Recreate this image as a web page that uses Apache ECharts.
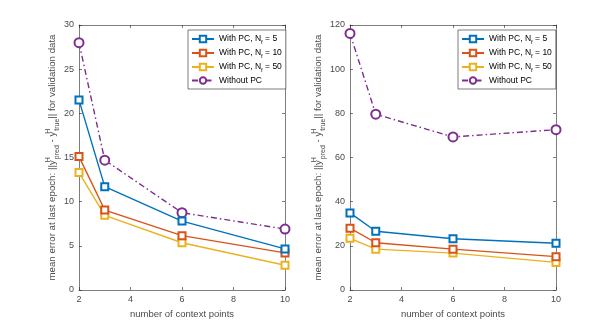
<!DOCTYPE html>
<html><head><meta charset="utf-8">
<script src="https://cdn.jsdelivr.net/npm/echarts@6/dist/echarts.min.js"></script>
<style>html,body{margin:0;padding:0;background:#fff}#c{width:614px;height:327px}</style>
</head><body><div id="c"></div>
<script>
const contextPoints = [2, 3, 6, 10];
const seriesNames = ['With PC, N_f = 5', 'With PC, N_f = 10', 'With PC, N_f = 50', 'Without PC'];
// left panel
const leftNf5 = [21.5, 11.7, 7.8, 4.65];
const leftNf10 = [15.1, 9.05, 6.15, 4.2];
const leftNf50 = [13.3, 8.45, 5.35, 2.8];
const leftNoPC = [28.0, 14.7, 8.75, 6.9];
// right panel
const rightNf5 = [34.9, 26.6, 23.2, 21.2];
const rightNf10 = [28.0, 21.4, 18.5, 15.1];
const rightNf50 = [23.4, 18.5, 16.7, 12.5];
const rightNoPC = [116.2, 79.6, 69.3, 72.6];
const xTicks = [2, 4, 6, 8, 10];
const leftYTicks = [0, 5, 10, 15, 20, 25, 30];
const rightYTicks = [0, 20, 40, 60, 80, 100, 120];

const colors = ['#0072BD', '#D95319', '#EDB120', '#7E2F8E'];
const axisCol = '#262626';
const labCol = '#4a4a4a';
const font = 'Liberation Sans, Arial, sans-serif';

const chart = echarts.init(document.getElementById('c'));
const grids = [
  {left: 79, top: 25, width: 206, height: 265},
  {left: 350, top: 25, width: 206, height: 265}
];
const yName = 'mean error at last epoch: ||y{sup|H}{sub|pred} - y{sup|H}{sub|true}|| for validation data';
const richName = {
  sup: {fontSize: 7, color: labCol, fontFamily: font, verticalAlign: 'top', lineHeight: 16, width: 1},
  sub: {fontSize: 7, color: labCol, fontFamily: font, verticalAlign: 'bottom', lineHeight: 16}
};
function xAxes(gi) {
  return [
    {gridIndex: gi, type: 'value', min: 2, max: 10, interval: 2, position: 'bottom',
     name: 'number of context points', nameLocation: 'middle', nameGap: 16,
     nameTextStyle: {color: labCol, fontSize: 9.5, fontFamily: font},
     axisLine: {show: true, onZero: false, lineStyle: {color: axisCol, width: 0.6}},
     axisTick: {show: true, inside: true, length: 3, lineStyle: {color: axisCol, width: 0.6}},
     axisLabel: {color: labCol, fontSize: 9, fontFamily: font, margin: 5,
       formatter: v => xTicks.includes(v) ? String(v) : ''},
     splitLine: {show: false}},
    {gridIndex: gi, type: 'value', min: 2, max: 10, interval: 2, position: 'top',
     axisLine: {show: true, onZero: false, lineStyle: {color: axisCol, width: 0.6}},
     axisTick: {show: true, inside: true, length: 3, lineStyle: {color: axisCol, width: 0.6}},
     axisLabel: {show: false}, splitLine: {show: false}}
  ];
}
function yAxes(gi, max, interval, ticks) {
  return [
    {gridIndex: gi, type: 'value', min: 0, max: max, interval: interval, position: 'left',
     name: yName, nameLocation: 'middle', nameGap: 17,
     nameTextStyle: {color: labCol, fontSize: 9.7, fontFamily: font, rich: richName},
     axisLine: {show: true, onZero: false, lineStyle: {color: axisCol, width: 0.6}},
     axisTick: {show: true, inside: true, length: 3, lineStyle: {color: axisCol, width: 0.6}},
     axisLabel: {color: labCol, fontSize: 9, fontFamily: font, margin: 5,
       formatter: v => ticks.includes(v) ? String(v) : ''},
     splitLine: {show: false}},
    {gridIndex: gi, type: 'value', min: 0, max: max, interval: interval, position: 'right',
     axisLine: {show: true, onZero: false, lineStyle: {color: axisCol, width: 0.6}},
     axisTick: {show: true, inside: true, length: 3, lineStyle: {color: axisCol, width: 0.6}},
     axisLabel: {show: false}, splitLine: {show: false}}
  ];
}
function mk(name, vals, ci, axIdx) {
  const isNo = ci === 3;
  return {
    name: name, type: 'line', xAxisIndex: axIdx, yAxisIndex: axIdx,
    data: contextPoints.map((x, i) => [x, vals[i]]),
    symbol: isNo ? 'emptyCircle' : 'emptyRect',
    symbolSize: isNo ? 9 : 7,
    color: colors[ci],
    showAllSymbol: true,
    lineStyle: {color: colors[ci], width: 1.4, type: isNo ? [6, 3, 1.5, 3] : 'solid'},
    itemStyle: {color: colors[ci], borderColor: colors[ci], borderWidth: 1.3},
    emphasis: {disabled: true}, animation: false, z: 5 - ci
  };
}
const leftData = [leftNf5, leftNf10, leftNf50, leftNoPC];
const rightData = [rightNf5, rightNf10, rightNf50, rightNoPC];
const series = [];
leftData.forEach((d, i) => series.push(mk(seriesNames[i], d, i, 0)));
rightData.forEach((d, i) => series.push(mk(seriesNames[i], d, i, 2)));

function legend(left) {
  return {
    left: left, top: 30, orient: 'vertical', itemGap: 2, itemWidth: 22, itemHeight: 8,
    padding: [3, 4, 3, 3], backgroundColor: '#fff', borderColor: axisCol, borderWidth: 0.6,
    data: seriesNames, selectedMode: false,
    textStyle: {color: '#000', fontSize: 8.5, fontFamily: font, lineHeight: 11,
      rich: {sub: {fontSize: 6, fontFamily: font, color: '#000', verticalAlign: 'bottom', lineHeight: 12}}},
    formatter: n => n.replace('N_f', 'N{sub|f}')
  };
}

chart.setOption({
  animation: false,
  grid: grids,
  xAxis: [...xAxes(0), ...xAxes(1)],
  yAxis: [...yAxes(0, 30, 5, leftYTicks), ...yAxes(1, 120, 20, rightYTicks)],
  legend: [legend(188), legend(458)],
  series: series
});
</script></body></html>
